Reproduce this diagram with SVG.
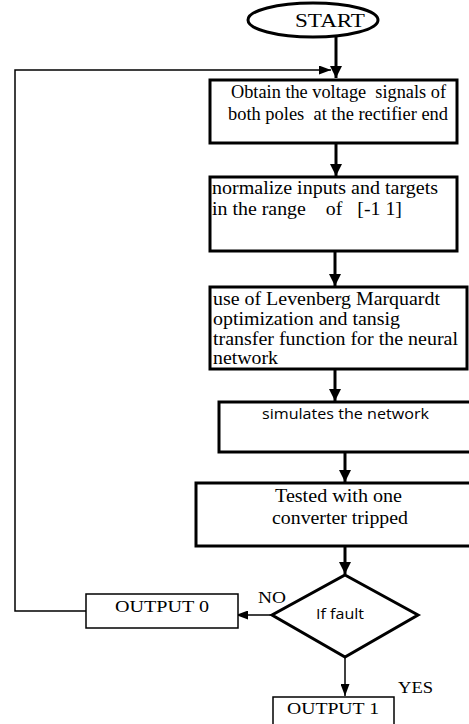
<svg xmlns="http://www.w3.org/2000/svg" width="469" height="724" viewBox="0 0 469 724">
<style>
.box{fill:#fff;stroke:#000;stroke-width:3}
.thin{fill:#fff;stroke:#000;stroke-width:1.5}
.ser{font-family:"Liberation Serif",serif;fill:#000}
.sans{font-family:"Open Sans","DejaVu Sans",sans-serif;fill:#000}
.th{stroke:#000;stroke-width:3;fill:none}
.tl{stroke:#000;stroke-width:1.5;fill:none}
</style>
<defs>
<marker id="ah" markerWidth="4" markerHeight="4" refX="4" refY="2" orient="auto" markerUnits="strokeWidth"><path d="M0,0 L4,2 L0,4 Z" fill="#000"/></marker>
<marker id="as" markerWidth="8" markerHeight="6" refX="8" refY="3" orient="auto" markerUnits="strokeWidth"><path d="M0,0 L8,3 L0,6 Z" fill="#000"/></marker>
</defs>
<rect width="469" height="724" fill="#fff"/>
<g id="connectors">
<line class="th" x1="336" y1="37" x2="336" y2="78" marker-end="url(#ah)"/>
<polyline class="tl" points="86,611 15,611 15,70 331,70" marker-end="url(#as)"/>
<line class="th" x1="336" y1="143" x2="336" y2="176" marker-end="url(#ah)"/>
<line class="th" x1="335" y1="251" x2="335" y2="286" marker-end="url(#ah)"/>
<line class="th" x1="335" y1="369" x2="335" y2="401" marker-end="url(#ah)"/>
<line class="th" x1="345" y1="452" x2="345" y2="482" marker-end="url(#ah)"/>
<line class="th" x1="345" y1="546" x2="345" y2="574" marker-end="url(#ah)"/>
<line class="tl" x1="272" y1="615" x2="236" y2="615" marker-end="url(#as)"/>
<line class="tl" x1="345" y1="657" x2="345" y2="696" marker-end="url(#as)"/>
</g>
<g id="start">
<ellipse class="box" cx="313" cy="20" rx="65" ry="17"/>
<text class="ser" x="295" y="27" font-size="19" textLength="70" lengthAdjust="spacingAndGlyphs">START</text>
</g>
<g id="obtain">
<rect class="box" x="210" y="80" width="247" height="63"/>
<text class="ser" font-size="18" xml:space="preserve"><tspan x="231" y="98" textLength="215" lengthAdjust="spacingAndGlyphs">Obtain the voltage  signals of</tspan><tspan x="228" y="120" textLength="220" lengthAdjust="spacingAndGlyphs">both poles  at the rectifier end</tspan></text>
</g>
<g id="normalize">
<rect class="box" x="210" y="177" width="247" height="74"/>
<text class="ser" font-size="18" xml:space="preserve"><tspan x="212" y="194" textLength="226" lengthAdjust="spacingAndGlyphs">normalize inputs and targets</tspan><tspan x="212" y="215" textLength="190" lengthAdjust="spacingAndGlyphs">in the range    of   [-1 1]</tspan></text>
</g>
<g id="levenberg">
<rect class="box" x="210" y="287" width="257" height="82"/>
<text class="ser" font-size="18"><tspan x="213" y="305" textLength="227" lengthAdjust="spacingAndGlyphs">use of Levenberg Marquardt</tspan><tspan x="213" y="325" textLength="187" lengthAdjust="spacingAndGlyphs">optimization and tansig</tspan><tspan x="213" y="345" textLength="245" lengthAdjust="spacingAndGlyphs">transfer function for the neural</tspan><tspan x="213" y="364" textLength="65" lengthAdjust="spacingAndGlyphs">network</tspan></text>
</g>
<g id="simulate">
<rect class="box" x="219" y="402" width="256" height="50"/>
<text class="sans" x="262" y="419" font-size="14.5" textLength="167" lengthAdjust="spacingAndGlyphs">simulates the network</text>
</g>
<g id="tested">
<rect class="box" x="196" y="483" width="280" height="63"/>
<text class="ser" font-size="18"><tspan x="275" y="502" textLength="127" lengthAdjust="spacingAndGlyphs">Tested with one</tspan><tspan x="272" y="524" textLength="136" lengthAdjust="spacingAndGlyphs">converter tripped</tspan></text>
</g>
<g id="fault">
<polygon class="box" points="345,575 418,615 345,657 272,615"/>
<text class="sans" x="316" y="619" font-size="14" textLength="48" lengthAdjust="spacingAndGlyphs">If fault</text>
</g>
<g id="output0">
<rect class="thin" x="86" y="594" width="152" height="34"/>
<text class="ser" x="115" y="612" font-size="17" textLength="94" lengthAdjust="spacingAndGlyphs">OUTPUT 0</text>
</g>
<g id="output1">
<rect class="thin" x="273" y="697" width="121" height="40"/>
<text class="ser" x="287" y="714" font-size="17" textLength="92" lengthAdjust="spacingAndGlyphs">OUTPUT 1</text>
</g>
<g id="labels">
<text class="ser" x="258" y="603" font-size="17" textLength="28" lengthAdjust="spacingAndGlyphs">NO</text>
<text class="ser" x="398" y="693" font-size="17" textLength="35" lengthAdjust="spacingAndGlyphs">YES</text>
</g>
</svg>
